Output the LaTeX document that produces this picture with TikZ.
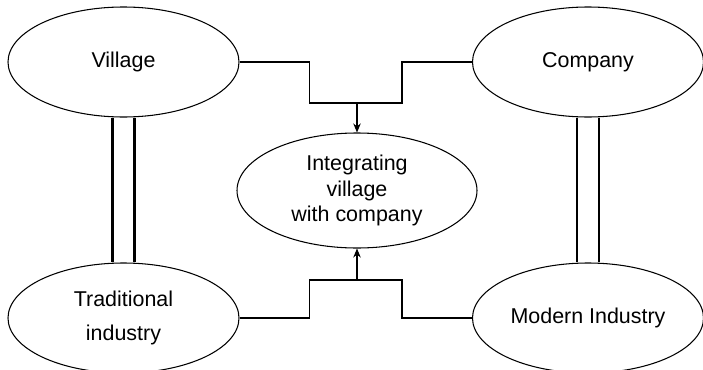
\documentclass[tikz,border=0pt]{standalone}
\usepackage{fontspec}
\setmainfont{Liberation Sans}
\usetikzlibrary{shapes.geometric}
\usetikzlibrary{arrows.meta}

\begin{document}
\begin{tikzpicture}[>={Stealth[length=1.8mm,width=1.5mm]},
        blob/.style={draw,ellipse,inner sep=0pt,line width=0.6pt,
            minimum width=4.62cm,minimum height=2.2cm,align=center,
            font=\fontsize{12.2}{14.4}\selectfont},
        link/.style={line width=0.6pt},
        twin/.style={line width=1.6pt}]
            \useasboundingbox (0,0) rectangle (14.06,7.38);
            \node[blob] (village) at (2.47,6.14) {Village};
            \node[blob] (company) at (11.76,6.14) {Company};
            \node[blob] (trad) at (2.47,1.02) {Traditional\\[5pt]industry};
            \node[blob] (modern) at (11.76,1.02) {Modern Industry};
            \node[blob,minimum width=4.8cm,minimum height=2.3cm] (integ) at (7.14,3.57)
                {Integrating\\village\\with company};
            \coordinate (top) at (7.14,5.32);
            \coordinate (bot) at (7.14,1.78);
            \draw[link] (village.east) -- ++(1.4,0) |- (top);
            \draw[link] (company.west) -- ++(-1.4,0) |- (top);
            \draw[link,->] (top) -- (integ.north);
            \draw[link] (trad.east) -- ++(1.4,0) |- (bot);
            \draw[link] (modern.west) -- ++(-1.4,0) |- (bot);
            \draw[link,->] (bot) -- (integ.south);
            \foreach \s in {-0.22,0.22} {
                \draw[twin] ([xshift=\s cm]village.south) -- ([xshift=\s cm]trad.north);
                \draw[twin] ([xshift=\s cm]company.south) -- ([xshift=\s cm]modern.north);
            }
        \end{tikzpicture}
\end{document}
